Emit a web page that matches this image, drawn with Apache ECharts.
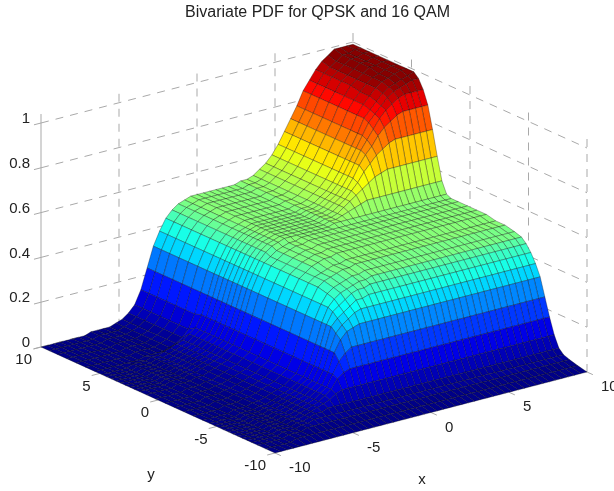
<!DOCTYPE html>
<html>
<head>
<meta charset="utf-8">
<style>
  html, body { margin: 0; background: #fff; }
  #chart { width: 614px; height: 491px; }
</style>
<script src="https://cdn.jsdelivr.net/npm/echarts@6/dist/echarts.min.js"></script>
</head>
<body>
<div id="chart"></div>
<script>
var chartTitle = 'Bivariate PDF for QPSK and 16 QAM'
var xValues = [-10, -9.6, -9.2, -8.8, -8.4, -8, -7.6, -7.2, -6.8, -6.4, -6, -5.6, -5.2, -4.8, -4.4, -4, -3.6, -3.2, -2.8, -2.4, -2, -1.6, -1.2, -0.8, -0.4, 0, 0.4, 0.8, 1.2, 1.6, 2, 2.4, 2.8, 3.2, 3.6, 4, 4.4, 4.8, 5.2, 5.6, 6, 6.4, 6.8, 7.2, 7.6, 8, 8.4, 8.8, 9.2, 9.6, 10]
var yValues = [-10, -9.2, -8.5, -8, -7.6, -7.2, -6.8, -6.4, -6, -5.6, -5.2, -4.8, -4.4, -3.8, -3, -2.2, -1.4, -0.6, 0.2, 1, 1.6, 2, 2.4, 2.8, 3.2, 3.6, 4, 4.4, 4.8, 5.4, 6.2, 7, 7.8, 8.6, 9.3, 10]
var xTicks = [-10, -5, 0, 5, 10]
var yTicks = [10, 5, 0, -5, -10]
var zTicks = [0, 0.2, 0.4, 0.6, 0.8, 1]
// pdf, in percent: one row per y value, one column per x value
var pdfPercent = [
  [0,0,0,0,0,0,0,0,0,0,0,0,0,0,0,0,0,0,0,0,0,0,0,0,0,0,0,0,0,0,0,0,0,0,0,0,0,0,0,0,0,0,0,0,0,0,0,0,0,0,0],
  [0,0,0,0,0,1,1,1,1,1,1,1,1,1,1,1,1,1,1,1,1,1,1,1,1,1,1,1,1,1,1,1,1,1,1,1,1,1,1,1,1,1,1,1,1,1,1,1,1,1,1],
  [0,0,0,0,0,1,1,1,2,2,2,2,2,2,2,2,2,2,2,2,2,2,2,2,2,2,2,2,2,2,2,2,2,2,2,2,2,2,2,2,2,2,2,2,2,2,2,2,2,2,2],
  [0,0,0,0,0,1,1,1,2,2,3,3,3,3,3,3,3,3,3,3,3,3,3,3,3,3,3,3,3,3,3,3,3,3,3,3,3,3,3,3,3,3,3,3,3,3,3,3,3,3,3],
  [0,0,0,0,0,1,1,1,2,2,3,4,4,5,5,5,5,5,5,5,5,5,5,5,5,5,5,5,5,5,5,5,5,5,5,5,5,5,5,5,5,5,5,5,5,5,5,5,5,5,5],
  [0,0,0,0,0,1,1,1,2,2,3,4,5,6,7,9,10,10,10,10,10,10,10,10,10,10,10,10,10,10,10,10,10,10,10,10,10,10,10,10,10,10,10,10,10,10,10,10,10,10,10],
  [0,0,0,0,0,1,1,1,2,2,3,4,5,6,8,10,14,16,17,17,17,17,17,17,17,17,17,17,17,17,17,17,17,17,17,17,17,17,17,17,17,17,17,17,17,17,17,17,17,17,17],
  [0,0,0,0,0,1,1,1,2,2,3,4,5,6,8,10,15,20,23,25,25,25,25,25,25,25,25,25,25,25,25,25,25,25,25,25,25,25,25,25,25,25,25,25,25,25,25,25,25,25,25],
  [0,0,0,0,0,1,1,1,2,2,3,4,5,6,8,10,15,23,28,31,32,33,33,33,33,33,33,33,33,33,33,33,33,33,33,33,33,33,33,33,33,33,33,33,33,33,33,33,33,33,33],
  [0,0,0,0,0,1,1,1,2,2,3,4,5,6,8,10,15,23,30,33,35,37,38,38,38,38,38,38,38,38,38,38,38,38,38,38,38,38,38,38,38,38,38,38,38,38,38,38,38,38,38],
  [0,0,0,0,0,1,1,1,2,2,3,4,5,6,8,10,15,23,32,35,37,39,41,41,42,42,42,42,42,42,42,42,42,42,42,42,42,42,42,42,42,42,42,42,42,42,42,42,42,42,42],
  [0,0,0,0,0,1,1,1,2,2,3,4,5,6,8,10,15,23,32,37,39,41,43,44,44,45,45,45,45,45,45,45,45,45,45,45,45,45,45,45,45,45,45,45,45,45,45,45,45,45,45],
  [0,0,0,0,0,1,1,1,2,2,3,4,5,6,8,10,15,23,32,38,41,43,44,45,46,46,47,47,47,47,47,47,47,47,47,47,47,47,47,47,47,47,47,47,47,47,47,47,47,47,47],
  [0,0,0,0,0,1,1,1,2,2,3,4,5,6,8,10,15,23,32,38,42,44,45,46,47,47,48,48,48,48,48,48,48,48,48,48,48,48,48,48,48,48,48,48,48,48,48,48,48,48,48],
  [0,0,0,0,0,1,1,1,2,2,3,4,5,6,8,10,15,23,32,38,43,45,46,47,48,48,49,49,49,49,49,49,49,49,49,49,49,49,49,49,49,49,49,49,49,49,49,49,49,49,49],
  [0,0,0,0,0,1,1,1,2,2,3,4,5,6,8,10,15,23,32,38,43,45,46,47,48,48,49,49,49,49,49,49,49,49,49,49,49,49,49,49,49,49,49,49,49,49,49,49,49,49,49],
  [0,0,0,0,0,1,1,1,2,2,3,4,5,6,8,10,15,23,32,38,43,45,47,48,49,49,50,50,50,50,50,50,50,50,50,50,50,50,50,50,50,50,50,50,50,50,50,50,50,50,50],
  [0,0,0,0,0,1,1,1,2,2,3,4,5,6,8,10,15,23,32,38,43,45,47,48,49,49,50,50,50,50,50,50,50,50,50,50,50,50,50,50,50,50,50,50,50,50,50,50,50,50,50],
  [0,0,0,0,0,1,1,1,2,2,3,4,5,6,8,10,15,23,32,38,43,45,47,48,49,49,50,50,50,50,50,50,50,50,50,50,50,50,50,50,50,50,50,50,50,50,50,50,50,50,50],
  [0,0,0,0,0,1,1,1,2,2,3,4,5,6,8,10,15,23,32,38,43,45,47,48,49,49,50,50,50,50,50,50,50,50,50,50,50,50,50,50,50,50,50,50,50,50,50,50,50,50,50],
  [0,0,0,0,0,1,1,1,2,2,3,4,5,6,8,10,15,23,32,38,43,45,47,48,49,49,50,50,50,50,50,50,50,50,50,50,50,50,50,50,50,50,50,50,50,50,50,50,50,50,50],
  [0,0,0,0,0,1,1,1,2,2,3,4,5,6,8,10,15,23,32,38,43,46,48,49,50,50,50,50,50,50,50,50,51,51,51,51,51,51,51,51,51,51,51,51,51,51,51,51,51,51,51],
  [0,0,0,0,0,1,1,1,2,2,3,4,5,6,8,10,15,23,32,38,43,46,48,49,50,50,50,50,50,50,50,50,51,51,52,53,54,55,56,56,56,56,56,56,56,56,56,56,56,56,56],
  [0,0,0,0,0,1,1,1,2,2,3,4,5,6,8,10,15,23,32,38,43,46,48,49,50,50,50,50,50,50,50,50,51,51,52,54,56,58,60,62,64,65,66,66,66,66,66,66,66,66,66],
  [0,0,0,0,0,1,1,1,2,2,3,4,5,6,8,10,15,23,32,38,43,46,48,49,50,50,50,50,50,50,50,50,51,51,52,54,56,59,62,66,69,72,74,76,77,77,77,77,77,77,77],
  [0,0,0,0,0,1,1,1,2,2,3,4,5,6,8,10,15,23,32,38,43,46,48,49,50,50,50,50,50,50,50,50,51,51,52,54,56,59,63,68,72,75,79,82,84,86,87,87,87,87,87],
  [0,0,0,0,0,1,1,1,2,2,3,4,5,6,8,10,15,23,32,38,43,46,48,49,50,50,50,50,50,50,50,50,51,51,52,54,56,59,63,68,73,77,81,85,88,90,92,93,93,93,93],
  [0,0,0,0,0,1,1,1,2,2,3,4,5,6,8,10,15,23,32,38,43,46,48,49,50,50,50,50,50,50,50,50,51,51,52,54,56,59,63,68,73,78,83,86,89,92,94,95,96,97,97],
  [0,0,0,0,0,1,1,1,2,2,3,4,5,6,8,10,15,23,32,38,43,46,48,49,50,50,50,50,50,50,50,50,51,51,52,54,56,59,63,68,73,78,84,87,90,93,95,96,97,98,99],
  [0,0,0,0,0,0,0,0,1,1,1,1,2,3,5,8,14,23,32,38,43,46,48,49,50,50,50,50,50,50,50,50,51,51,52,54,56,59,63,68,73,78,84,88,91,94,96,97,98,99,99],
  [0,0,0,0,0,0,0,0,1,1,1,1,2,3,5,8,14,23,32,38,43,46,48,49,50,50,50,50,50,50,50,50,51,51,52,54,56,59,63,68,73,78,84,88,91,94,96,97,98,99,99],
  [0,0,0,0,0,0,0,0,1,1,1,1,2,3,5,8,14,23,32,38,43,46,48,49,50,50,50,50,50,50,50,50,51,51,52,54,56,59,63,68,73,78,84,88,92,94,96,98,98,99,99],
  [0,0,0,0,0,0,0,0,1,1,1,1,2,3,5,8,14,23,32,38,43,46,48,49,50,50,50,50,50,50,50,50,51,51,52,54,56,59,63,68,73,78,84,88,92,94,96,98,98,99,99],
  [0,0,0,0,0,0,0,0,1,1,1,1,2,3,5,8,14,23,32,38,43,46,48,49,50,50,50,50,50,50,50,50,51,51,52,54,56,59,63,68,73,78,84,88,92,94,96,98,98,99,99],
  [0,0,0,0,0,0,0,0,1,1,1,1,2,3,5,8,14,23,32,38,43,46,48,49,50,50,50,50,50,50,50,50,51,51,52,54,56,59,63,68,73,78,84,88,92,94,96,98,98,99,99],
  [0,0,0,0,0,0,0,0,1,1,1,1,2,3,5,8,14,23,32,38,43,46,48,49,50,50,50,50,50,50,50,50,51,51,52,54,56,59,63,68,73,78,84,88,92,95,97,99,99,99,99]
]

var font = '15px "Liberation Sans", Arial, sans-serif'
var textColor = '#222'
var gridColor = '#a9a9a9'
var zTop = 1.04
var colorMax = 0.97

// orthographic view, gives a point on the flat picture axes
function project(x, y, z) {
  return [
    275 + (x + 10) * 15.6 - (y + 10) * 11.7,
    453 - (x + 10) * 4.05 - (y + 10) * 5.3 - z * 224
  ]
}

// matlab jet, 64 steps
function jet(v) {
  var t = (Math.min(63, Math.floor(v / colorMax * 64)) + 0.5) / 64
  function ch(c) {
    return Math.round(255 * Math.max(0, Math.min(1, 1.5 - Math.abs(4 * t - c))))
  }
  return 'rgb(' + ch(3) + ',' + ch(2) + ',' + ch(1) + ')'
}

function wallLine(api, a, b, dashed) {
  var p = api.coord(project(a[0], a[1], a[2]))
  var q = api.coord(project(b[0], b[1], b[2]))
  return {
    type: 'line',
    shape: { x1: p[0], y1: p[1], x2: q[0], y2: q[1] },
    style: { stroke: gridColor, lineWidth: 1, lineDash: dashed ? [8, 7] : null }
  }
}

function renderWalls(params, api) {
  var parts = []
  zTicks.forEach(function (z) {
    parts.push(wallLine(api, [-10, 10, z], [10, 10, z], true))
    parts.push(wallLine(api, [10, 10, z], [10, -10, z], true))
    parts.push(wallLine(api, [-10, 10, z], [-10.45, 10, z], false))
  })
  xTicks.forEach(function (x) {
    if (x > -10) parts.push(wallLine(api, [x, 10, 0], [x, 10, zTop], true))
    parts.push(wallLine(api, [x, -10, 0], [x, -10.5, 0], false))
  })
  yTicks.forEach(function (y) {
    if (y < 10) parts.push(wallLine(api, [10, y, 0], [10, y, zTop], true))
    parts.push(wallLine(api, [-10, y, 0], [-10.5, y, 0], false))
  })
  parts.push(wallLine(api, [-10, 10, 0], [-10, 10, zTop], false))
  return { type: 'group', children: parts }
}

function renderCell(params, api) {
  var i = api.value(0)
  var j = api.value(1)
  var corners = [[i, j], [i + 1, j], [i + 1, j + 1], [i, j + 1]].map(function (c) {
    return api.coord(project(xValues[c[0]], yValues[c[1]], pdfPercent[c[1]][c[0]] / 100))
  })
  return {
    type: 'polygon',
    shape: { points: corners },
    style: { fill: jet(pdfPercent[j][i] / 100), stroke: 'rgba(0,0,0,0.5)', lineWidth: 0.6 }
  }
}

function label(api, text, at, dx, dy, align) {
  var p = api.coord(project(at[0], at[1], at[2]))
  return {
    type: 'text',
    style: { text: text, x: p[0] + dx, y: p[1] + dy, align: align, verticalAlign: 'middle', font: font, fill: textColor }
  }
}

function renderLabels(params, api) {
  var parts = []
  zTicks.forEach(function (z) {
    parts.push(label(api, String(z), [-10, 10, z], -11, -4, 'right'))
  })
  xTicks.forEach(function (x) {
    parts.push(label(api, String(x), [x, -10, 0], 14, 15, 'left'))
  })
  yTicks.forEach(function (y) {
    parts.push(label(api, String(y), [-10, y, 0], -9, 13, 'right'))
  })
  parts.push(label(api, 'x', [0, -10, 0], -9, 67, 'center'))
  parts.push(label(api, 'y', [-10, 0, 0], -7, 75, 'center'))
  return { type: 'group', children: parts }
}

// back cells first so the front ones paint over them
var cells = []
for (var j = yValues.length - 2; j >= 0; j--) {
  for (var i = xValues.length - 2; i >= 0; i--) {
    cells.push([i, j])
  }
}

var chart = echarts.init(document.getElementById('chart'))
chart.setOption({
  animation: false,
  title: {
    text: chartTitle,
    left: 180,
    top: 0,
    textStyle: { fontFamily: '"Liberation Sans", Arial, sans-serif', fontWeight: 'normal', fontSize: 16, color: textColor }
  },
  grid: { left: 0, right: 0, top: 0, bottom: 0 },
  xAxis: { type: 'value', min: 0, max: 614, show: false },
  yAxis: { type: 'value', min: 0, max: 491, inverse: true, show: false },
  series: [
    { type: 'custom', z: 1, silent: true, clip: false, data: [[0, 0]], renderItem: renderWalls },
    { type: 'custom', z: 2, silent: true, clip: false, progressive: 0, data: cells, renderItem: renderCell },
    { type: 'custom', z: 3, silent: true, clip: false, data: [[0, 0]], renderItem: renderLabels }
  ]
})
</script>
</body>
</html>
